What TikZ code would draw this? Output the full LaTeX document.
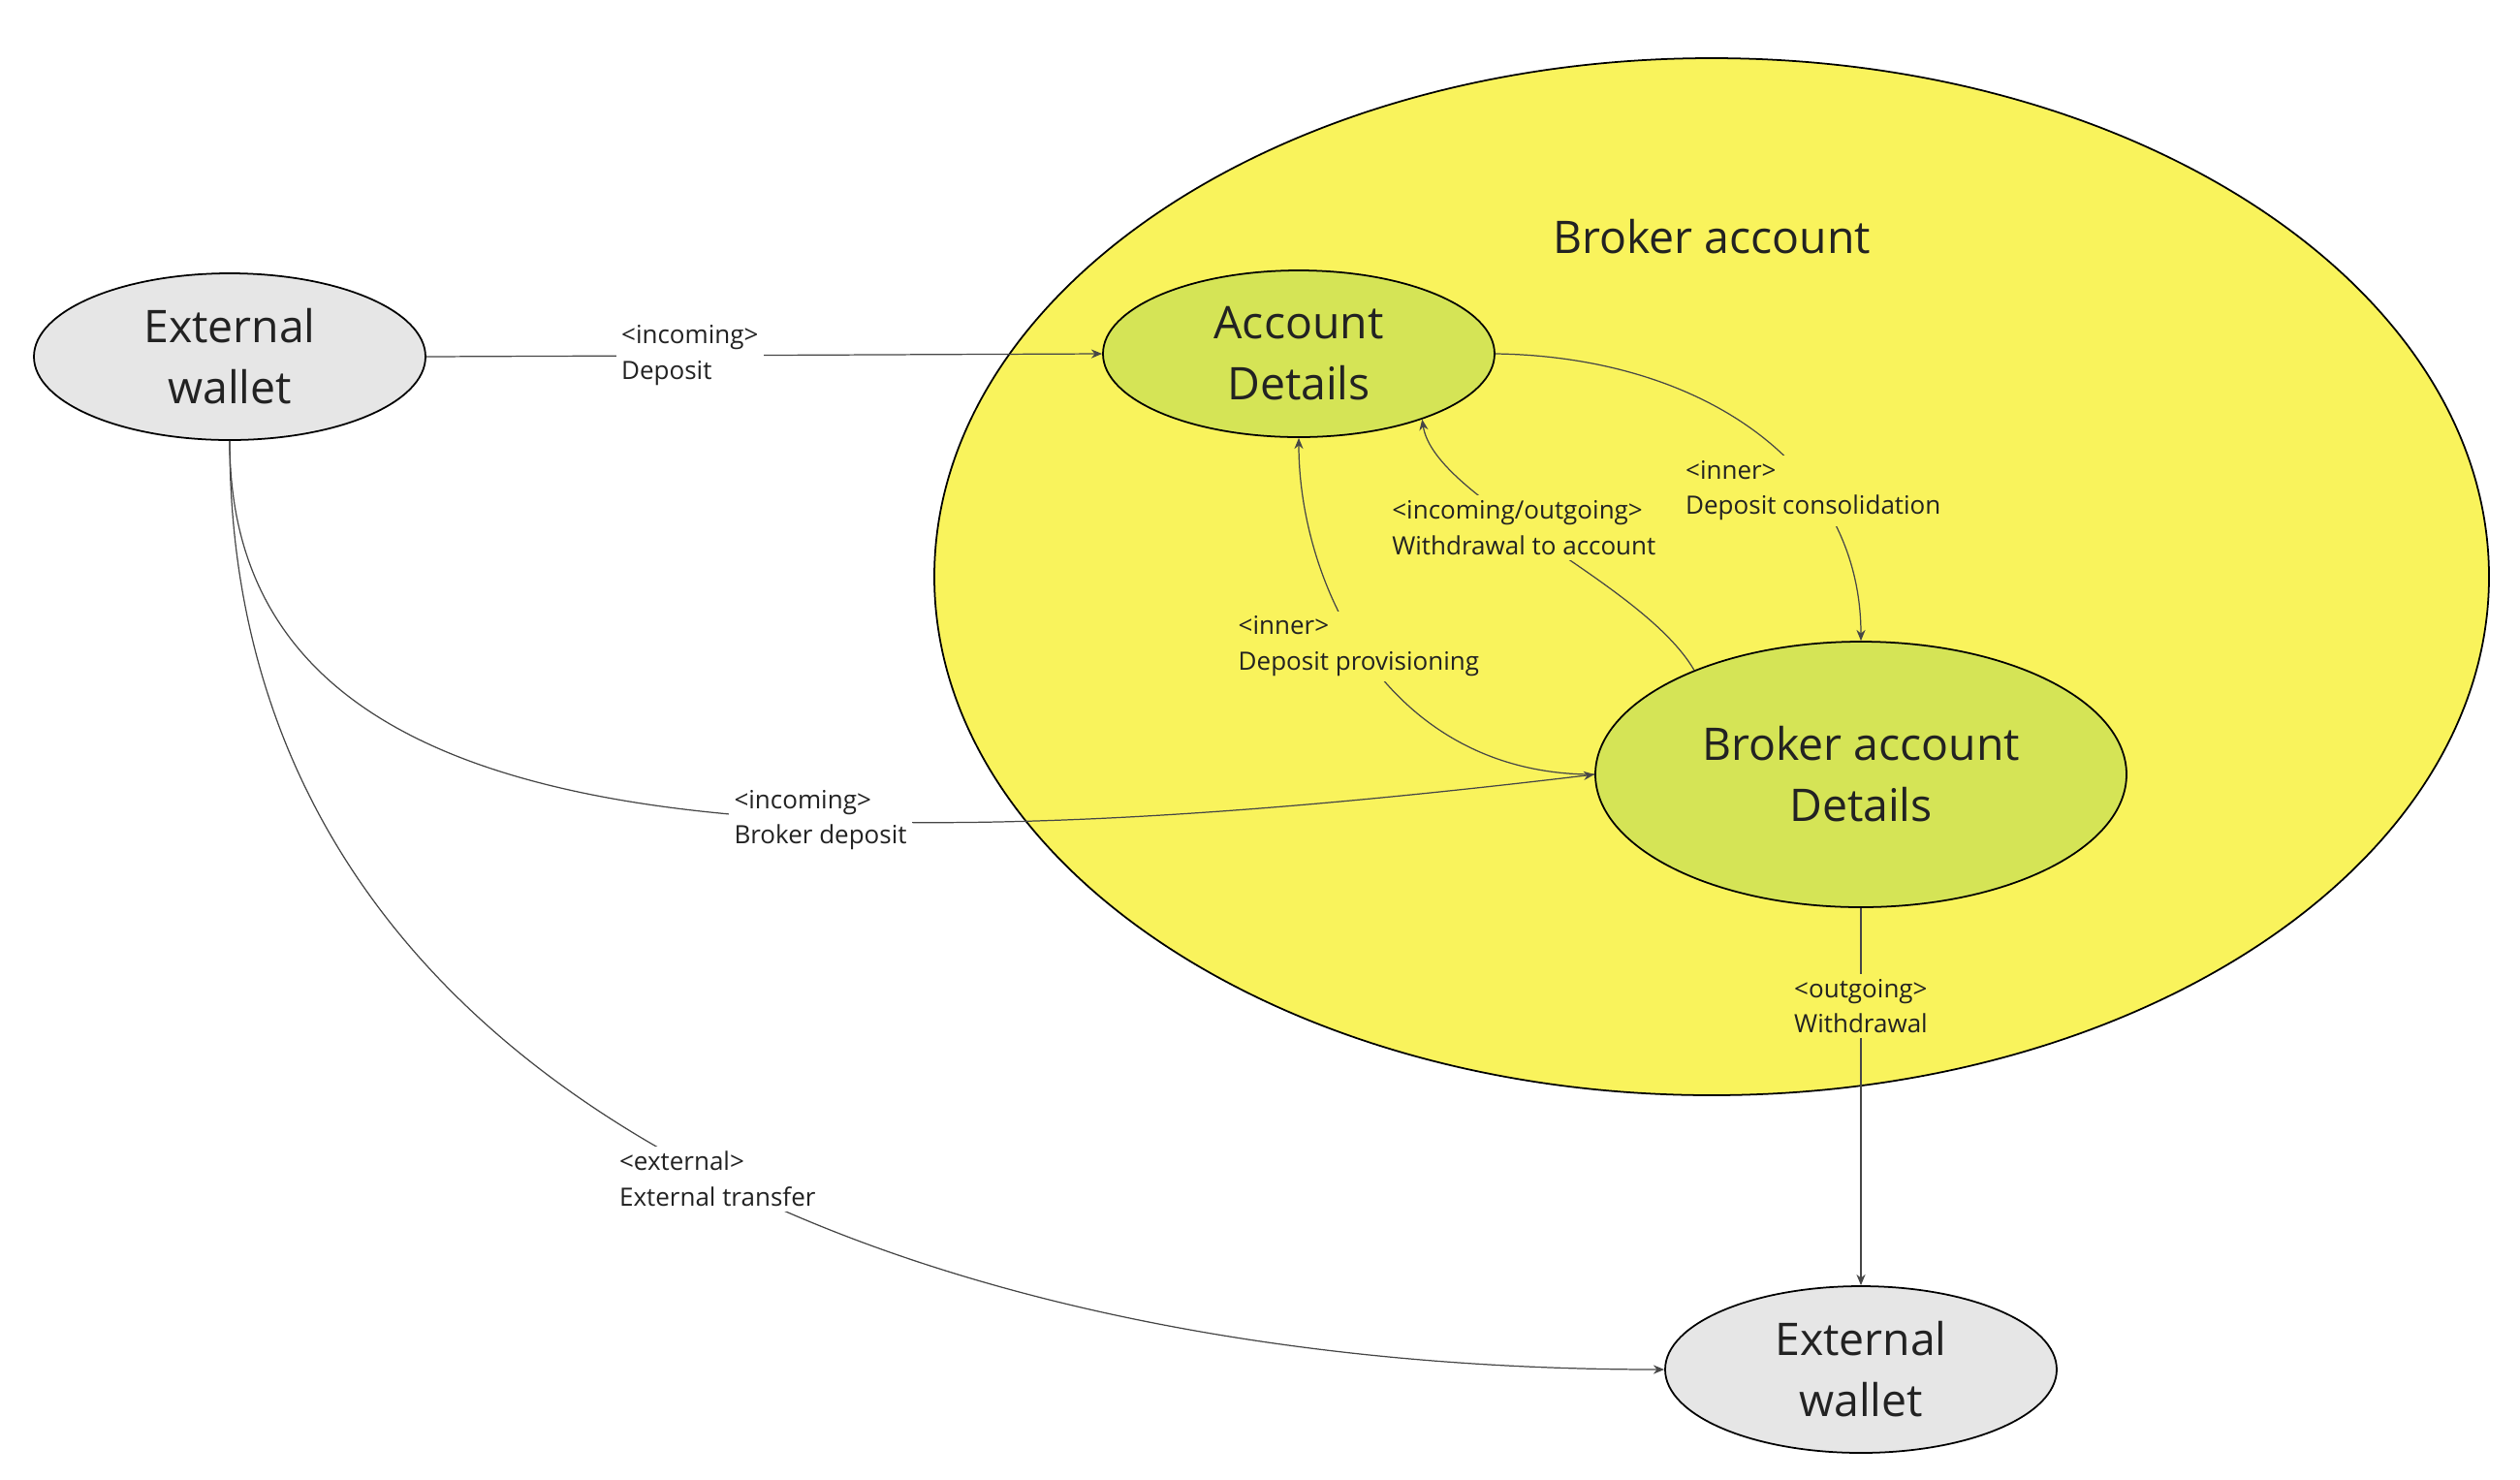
\documentclass[tikz,border=0pt]{standalone}
\usepackage{fontspec}
\setmainfont{Open Sans}
\usetikzlibrary{shapes.geometric,arrows.meta}
\definecolor{brokeryellow}{RGB}{249,243,92}
\definecolor{detailgreen}{RGB}{213,228,86}
\definecolor{walletgray}{RGB}{230,230,230}
\definecolor{textdark}{RGB}{34,34,34}
\definecolor{linegray}{RGB}{70,70,70}

\begin{document}
\begin{tikzpicture}[
	wallet/.style  = {ellipse, draw, line width = 0.5pt, fill = walletgray, minimum width = 4.04cm, minimum height = 1.72cm},
	detail/.style  = {ellipse, draw, line width = 0.5pt, fill = detailgreen},
	bigtext/.style = {inner sep = 0pt, align = center, text = textdark, font = \fontsize{13.2}{17.9}\selectfont},
	flow/.style    = {draw = linegray, line width = 0.35pt, -{Stealth[length = 3.2pt, width = 2.6pt]}},
	tag/.style     = {inner sep = 1.5pt, align = left, text = textdark, font = \fontsize{7.4}{10.4}\selectfont},
	tagout/.style  = {tag, fill = white},
	tagin/.style   = {tag, fill = brokeryellow}
]
	\useasboundingbox (0,0) rectangle (26,-15.26);

	\node[ellipse, draw, line width = 0.5pt, fill = brokeryellow, minimum width = 16.04cm, minimum height = 10.70cm] (broker) at (17.66,-5.95) {};
	\node[bigtext] (brokertitle) at (17.66,-2.44) {Broker account};

	\node[wallet, bigtext] (walletA) at (2.37,-3.68)  {External\\wallet};
	\node[detail, bigtext, minimum width = 4.04cm, minimum height = 1.72cm] (account) at (13.40,-3.65) {Account\\Details};
	\node[detail, bigtext, minimum width = 5.48cm, minimum height = 2.74cm] (brokerdetail) at (19.20,-7.99) {Broker account\\Details};
	\node[wallet, bigtext] (walletB) at (19.20,-14.13) {External\\wallet};

	\draw[flow] (walletA.east) -- node[tagout, pos = 0.39] {<incoming>\\Deposit} (account.west);
	\draw[flow] (account.east) .. controls (17.57,-3.68) and (19.20,-4.81) .. node[tagin, pos = 0.67] {<inner>\\Deposit consolidation} (brokerdetail.north);
	\draw[flow] (brokerdetail.148) .. controls (16.95,-6.00) and (14.80,-5.15) .. node[tagin, pos = 0.555] {<incoming/outgoing>\\Withdrawal to account} (account.-28);
	\draw[flow] (brokerdetail.west) .. controls (14.30,-8.00) and (13.40,-6.00) .. node[tagin, pos = 0.535] {<inner>\\Deposit provisioning} (account.south);
	\draw[flow] (walletA.south) .. controls (2.37,-8.62) and (7.60,-9.05) .. node[tagout, pos = 0.645] {<incoming>\\Broker deposit} (brokerdetail.west);
	\draw[flow] (brokerdetail.south) -- node[tagin, pos = 0.26] {<outgoing>\\Withdrawal} (walletB.north);
	\draw[flow] (walletA.south) .. controls (2.37,-11.61) and (9.95,-14.13) .. node[tagout, pos = 0.52] {<external>\\External transfer} (walletB.west);
\end{tikzpicture}
\end{document}
